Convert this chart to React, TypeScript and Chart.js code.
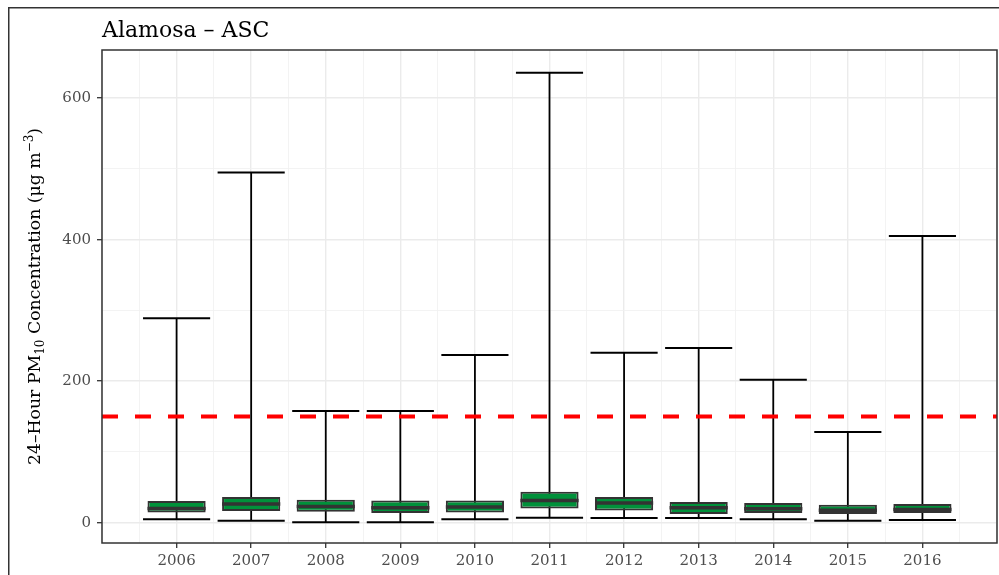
import React, { useEffect, useRef } from 'react';
import { Chart, registerables } from 'chart.js';

Chart.register(...registerables);

// ---- data ----
const years = [2006, 2007, 2008, 2009, 2010, 2011, 2012, 2013, 2014, 2015, 2016];
const whiskerLow = [4.8, 2.8, 0.6, 0.6, 4.8, 7, 6.6, 6.6, 4.8, 2.8, 3.8];
const whiskerHigh = [289, 495, 158, 158, 237, 636, 240, 247, 202, 128, 405];
const q1 = [14.5, 16.5, 15.5, 13.7, 14.5, 20.2, 17.4, 12.3, 13.7, 12.3, 13.7];
const median = [20, 26.4, 23, 21, 22, 31.5, 28, 21, 19.8, 17.6, 18.8];
const q3 = [30.6, 36.3, 32.5, 31.5, 31.5, 43.8, 36.3, 29.2, 27.8, 25.4, 26.4];
const standardValue = 150;
const yGridValues = [0, 100, 200, 300, 400, 500, 600];
const yLabelValues = [0, 200, 400, 600];
const xMajorGrid = [2005, 2006, 2007, 2008, 2009, 2010, 2011, 2012, 2013, 2014, 2015, 2016, 2017];
const xMinorGrid = [2005.5, 2006.5, 2007.5, 2008.5, 2009.5, 2010.5, 2011.5, 2012.5, 2013.5, 2014.5, 2015.5, 2016.5];
const titleText = 'Alamosa – ASC';
const yTitleParts = [
  { t: '24–Hour PM', k: 'n' },
  { t: '10', k: 'sub' },
  { t: ' Concentration (μg m', k: 'n' },
  { t: '−3', k: 'sup' },
  { t: ')', k: 'n' },
];

const X_MIN = 2005;
const X_MAX = 2017;
const Y_MIN = -28.7;
const Y_MAX = 668;
const FONT = '"DejaVu Serif", serif';

const unitPx = (chart: any) => {
  const s = chart.scales.x;
  return s.getPixelForValue(X_MIN + 1) - s.getPixelForValue(X_MIN);
};

const decor = {
  id: 'decor',
  beforeDraw(chart: any) {
    const { ctx, width, height } = chart;
    ctx.save();
    ctx.fillStyle = '#ffffff';
    ctx.fillRect(0, 0, width, height);
    ctx.strokeStyle = '#333333';
    ctx.lineWidth = 1.5;
    ctx.beginPath();
    ctx.moveTo(0.75, height);
    ctx.lineTo(0.75, 0.75);
    ctx.lineTo(width, 0.75);
    ctx.stroke();
    ctx.restore();
  },
  afterDraw(chart: any) {
    const { ctx, chartArea: a } = chart;
    ctx.save();
    ctx.strokeStyle = '#333333';
    ctx.lineWidth = 1.5;
    ctx.strokeRect(a.left, a.top, a.right - a.left, a.bottom - a.top);

    ctx.fillStyle = '#000000';
    ctx.textAlign = 'left';
    ctx.textBaseline = 'alphabetic';
    ctx.font = `22px ${FONT}`;
    ctx.fillText(titleText, a.left, 29.5);

    const size = 17.3;
    const small = 12;
    const fontOf = (k: string) => `${k === 'n' ? size : small}px ${FONT}`;
    let total = 0;
    for (const p of yTitleParts) {
      ctx.font = fontOf(p.k);
      total += ctx.measureText(p.t).width;
    }
    ctx.translate(32, (a.top + a.bottom) / 2);
    ctx.rotate(-Math.PI / 2);
    let x = -total / 2;
    for (const p of yTitleParts) {
      ctx.font = fontOf(p.k);
      const dy = p.k === 'sub' ? 4 : p.k === 'sup' ? -7 : 0;
      ctx.fillText(p.t, x, dy);
      x += ctx.measureText(p.t).width;
    }
    ctx.restore();
  },
};

export default function App() {
  const ref = useRef<HTMLCanvasElement>(null);
  useEffect(() => {
    const canvas = ref.current;
    if (!canvas) return;

    const whiskerSets = years.map((yr, i) => ({
      type: 'line' as const,
      data: [
        { x: yr, y: whiskerLow[i] },
        { x: yr, y: whiskerHigh[i] },
      ],
      borderColor: '#000000',
      borderWidth: 1.8,
      pointRadius: 0,
      fill: false,
      order: 5,
    }));

    const chart = new Chart(canvas, {
      type: 'bar',
      data: {
        datasets: [
          {
            type: 'line',
            data: [
              { x: X_MIN, y: standardValue },
              { x: X_MAX, y: standardValue },
            ],
            borderColor: '#ff0000',
            borderWidth: 4,
            borderDash: [16, 17],
            pointRadius: 0,
            fill: false,
            order: 0,
          },
          {
            type: 'scatter',
            data: years.map((yr, i) => ({ x: yr, y: median[i] })),
            pointStyle: 'line',
            pointRadius: (c: any) => unitPx(c.chart) * 0.39,
            borderColor: '#333333',
            pointBorderColor: '#333333',
            borderWidth: 3.5,
            pointBorderWidth: 3.5,
            order: 1,
          },
          {
            type: 'bar',
            data: years.map((yr, i) => ({ x: yr, y: [q1[i], q3[i]] })),
            backgroundColor: '#00913a',
            borderColor: '#333333',
            borderWidth: 2,
            borderSkipped: false,
            categoryPercentage: 1,
            barPercentage: 0.78,
            order: 2,
          },
          {
            type: 'scatter',
            data: years.map((yr, i) => ({ x: yr, y: whiskerHigh[i] })),
            pointStyle: 'line',
            pointRadius: (c: any) => unitPx(c.chart) * 0.45,
            pointBorderColor: '#000000',
            pointBorderWidth: 2,
            order: 3,
          },
          {
            type: 'scatter',
            data: years.map((yr, i) => ({ x: yr, y: whiskerLow[i] })),
            pointStyle: 'line',
            pointRadius: (c: any) => unitPx(c.chart) * 0.45,
            pointBorderColor: '#000000',
            pointBorderWidth: 2,
            order: 4,
          },
          ...whiskerSets,
        ] as any,
      },
      options: {
        responsive: false,
        animation: false,
        events: [],
        layout: { padding: { left: 0, right: 11, top: 43, bottom: 0 } },
        plugins: {
          legend: { display: false },
          tooltip: { enabled: false },
          title: { display: false },
        },
        scales: {
          x: {
            type: 'linear',
            position: 'bottom',
            min: X_MIN,
            max: X_MAX,
            offset: false,
            afterBuildTicks: (s: any) => {
              s.ticks = xMajorGrid.map((v) => ({ value: v }));
            },
            afterFit: (s: any) => {
              s.height = 44;
            },
            border: { display: false },
            grid: {
              offset: false,
              color: '#ebebeb',
              lineWidth: 1.4,
              tickLength: 5,
              tickWidth: 1.3,
              tickColor: (c: any) =>
                c.tick && years.includes(c.tick.value) ? '#333333' : 'rgba(0,0,0,0)',
            },
            ticks: {
              autoSkip: false,
              maxRotation: 0,
              padding: 4,
              color: '#4d4d4d',
              font: { family: FONT, size: 15 },
              callback: (v: any) => (years.includes(Number(v)) ? String(v) : ''),
            },
          },
          x2: {
            type: 'linear',
            position: 'bottom',
            min: X_MIN,
            max: X_MAX,
            offset: false,
            afterBuildTicks: (s: any) => {
              s.ticks = xMinorGrid.map((v) => ({ value: v }));
            },
            afterFit: (s: any) => {
              s.height = 0;
            },
            border: { display: false },
            grid: { offset: false, color: '#f0f0f0', lineWidth: 0.8, drawTicks: false },
            ticks: { display: false },
          },
          y: {
            type: 'linear',
            min: Y_MIN,
            max: Y_MAX,
            afterBuildTicks: (s: any) => {
              s.ticks = yGridValues.map((v) => ({ value: v }));
            },
            afterFit: (s: any) => {
              s.width = 94;
            },
            border: { display: false },
            grid: {
              offset: false,
              color: (c: any) =>
                c.tick && yLabelValues.includes(c.tick.value) ? '#ebebeb' : '#f0f0f0',
              lineWidth: (c: any) =>
                c.tick && yLabelValues.includes(c.tick.value) ? 1.4 : 0.8,
              tickLength: 5,
              tickWidth: 1.3,
              tickColor: (c: any) =>
                c.tick && yLabelValues.includes(c.tick.value) ? '#333333' : 'rgba(0,0,0,0)',
            },
            ticks: {
              padding: 6,
              color: '#4d4d4d',
              font: { family: FONT, size: 15 },
              callback: (v: any) => (yLabelValues.includes(Number(v)) ? String(v) : ''),
            },
          },
        },
      } as any,
      plugins: [decor],
    });
    return () => chart.destroy();
  }, []);

  return (
    <div
      style={{
        position: 'fixed',
        left: 8,
        top: 7,
        width: 991,
        height: 568,
        overflow: 'hidden',
      }}
    >
      <canvas ref={ref} width={1000} height={580} style={{ display: 'block' }} />
    </div>
  );
}
